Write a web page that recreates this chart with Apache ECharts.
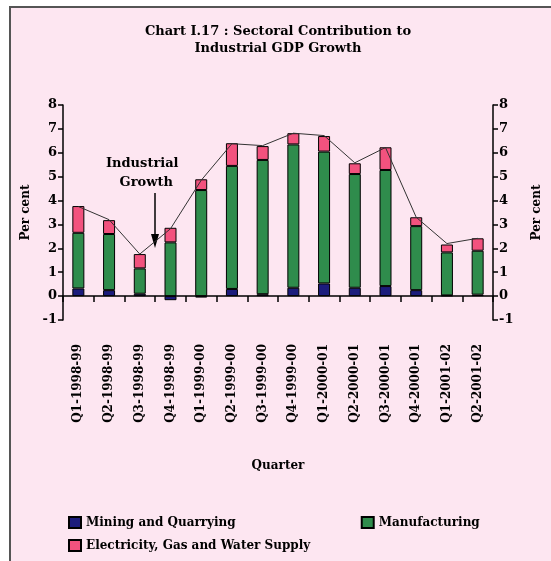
<!DOCTYPE html>
<html>
<head>
<meta charset="utf-8">
<script src="https://cdn.jsdelivr.net/npm/echarts@6/dist/echarts.min.js"></script>
<style>
  html, body { margin: 0; padding: 0; background: #ffffff; }
  #chart { width: 551px; height: 561px; }
</style>
</head>
<body>
<div id="chart"></div>
<script>
// data
const quarters = ["Q1-1998-99", "Q2-1998-99", "Q3-1998-99", "Q4-1998-99", "Q1-1999-00", "Q2-1999-00", "Q3-1999-00",
    "Q4-1999-00", "Q1-2000-01", "Q2-2000-01", "Q3-2000-01", "Q4-2000-01", "Q1-2001-02", "Q2-2001-02"];
const mining = [0.32, 0.25, 0.1, -0.17, -0.06, 0.3, 0.08, 0.35, 0.53, 0.35, 0.42, 0.25, 0.03, 0.06];
const manufacturing = [2.33, 2.35, 1.06, 2.25, 4.44, 5.15, 5.62, 6.0, 5.52, 4.76, 4.86, 2.68, 1.8, 1.84];
const electricity = [1.12, 0.58, 0.6, 0.61, 0.45, 0.95, 0.58, 0.47, 0.65, 0.45, 0.95, 0.37, 0.33, 0.52];
const growth = [3.75, 3.2, 1.76, 2.82, 4.85, 6.38, 6.3, 6.82, 6.72, 5.58, 6.22, 3.3, 2.2, 2.42];

const FONT = "DejaVu Serif";
const chart = echarts.init(document.getElementById("chart"));

const yAxisBase = {
    type: "value",
    min: -1,
    max: 8,
    interval: 1,
    name: "Per cent",
    nameLocation: "middle",
    nameTextStyle: { fontFamily: FONT, fontWeight: "bold", fontSize: 12, color: "#000" },
    splitLine: { show: false },
    axisLine: { show: true, lineStyle: { color: "#000", width: 1.5 } },
    axisTick: { show: true, length: 5, lineStyle: { color: "#000", width: 1.5 } },
    axisLabel: { fontFamily: FONT, fontWeight: "bold", fontSize: 13, color: "#000", margin: 6 },
};

const option = {
    backgroundColor: "#ffffff",
    animation: false,
    title: {
        text: "Chart I.17 : Sectoral Contribution to\nIndustrial GDP Growth",
        left: 273,
        top: 18,
        textAlign: "center",
        textStyle: { fontFamily: FONT, fontWeight: "bold", fontSize: 13, color: "#000", lineHeight: 17 },
    },
    legend: [
        {
            left: 63,
            top: 511,
            icon: "rect",
            itemWidth: 12,
            itemHeight: 11,
            itemGap: 125,
            data: ["Mining and Quarrying", "Manufacturing"],
            textStyle: { fontFamily: FONT, fontWeight: "bold", fontSize: 12, color: "#000" },
        },
        {
            left: 63,
            top: 534,
            icon: "rect",
            itemWidth: 12,
            itemHeight: 11,
            data: ["Electricity, Gas and Water Supply"],
            textStyle: { fontFamily: FONT, fontWeight: "bold", fontSize: 12, color: "#000" },
        },
    ],
    grid: { left: 63, right: 53, top: 105, bottom: 241 },
    xAxis: [
        {
            type: "category",
            data: quarters,
            axisLine: { onZero: true, lineStyle: { color: "#000", width: 1.5 } },
            axisTick: { show: true, interval: 0, length: 6, lineStyle: { color: "#000", width: 1.5 } },
            axisLabel: { show: false },
        },
        {
            type: "category",
            data: quarters,
            position: "bottom",
            axisLine: { show: false, onZero: false },
            axisTick: { show: false },
            axisLabel: { rotate: 90, interval: 0, margin: 24, fontFamily: FONT, fontWeight: "bold", fontSize: 12, color: "#000" },
            name: "Quarter",
            nameLocation: "middle",
            nameGap: 140,
            nameTextStyle: { fontFamily: FONT, fontWeight: "bold", fontSize: 12, color: "#000" },
        },
    ],
    yAxis: [
        Object.assign({}, yAxisBase, { position: "left", nameGap: 30, nameRotate: 90 }),
        Object.assign({}, yAxisBase, { position: "right", nameGap: 38, nameRotate: 90 }),
    ],
    graphic: [
        {
            type: "rect",
            z: -10,
            silent: true,
            shape: { x: 10, y: 7, width: 545, height: 560 },
            style: { fill: "#fde6f1", stroke: "#555", lineWidth: 2 },
        },
        {
            type: "text",
            left: 106,
            top: 154,
            style: {
                text: "Industrial\n   Growth",
                font: "bold 13px 'DejaVu Serif'",
                fill: "#000",
                lineHeight: 19,
            },
        },
        {
            type: "line",
            shape: { x1: 155, y1: 193, x2: 155, y2: 240 },
            style: { stroke: "#000", lineWidth: 1.5 },
        },
        {
            type: "polygon",
            shape: { points: [[151, 234], [159, 234], [155, 248]] },
            style: { fill: "#000" },
        },
    ],
    series: [
        {
            name: "Mining and Quarrying",
            type: "bar",
            stack: "total",
            barWidth: 12,
            data: mining,
            itemStyle: { color: "#1c1c7c", borderColor: "#000", borderWidth: 1 },
        },
        {
            name: "Manufacturing",
            type: "bar",
            stack: "total",
            barWidth: 12,
            data: manufacturing,
            itemStyle: { color: "#2f8c4c", borderColor: "#000", borderWidth: 1 },
        },
        {
            name: "Electricity, Gas and Water Supply",
            type: "bar",
            stack: "total",
            barWidth: 12,
            data: electricity,
            itemStyle: { color: "#f2527e", borderColor: "#000", borderWidth: 1 },
        },
        {
            name: "Industrial Growth",
            type: "line",
            data: growth,
            symbol: "none",
            z: 5,
            lineStyle: { color: "#333", width: 1 },
        },
    ],
};

chart.setOption(option);
</script>
</body>
</html>
